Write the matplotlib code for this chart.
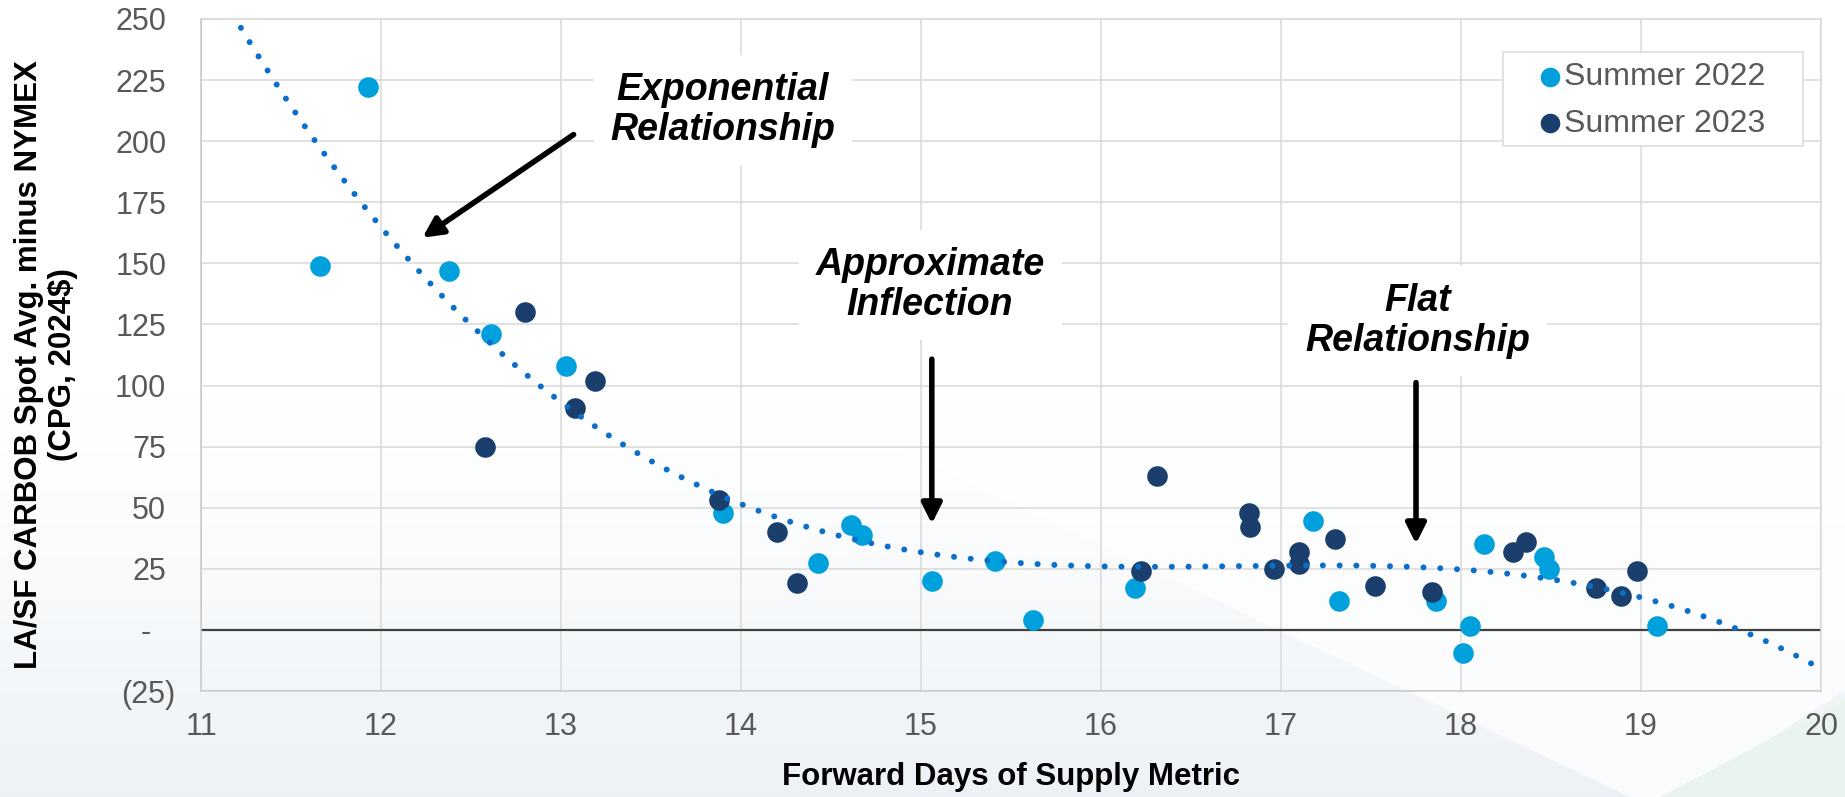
import numpy as np
import matplotlib
matplotlib.use("Agg")
import matplotlib.pyplot as plt
from matplotlib.patches import Polygon, Rectangle
from matplotlib.transforms import ScaledTranslation

plt.rcParams["font.family"] = ["Liberation Sans", "DejaVu Sans"]

# Summer 2022 (light blue)
x_2022 = [11.66, 11.93, 12.38, 12.61, 13.03, 13.90, 14.43, 14.61, 14.67, 15.06, 15.41,
          15.62, 16.19, 17.18, 17.32, 17.86, 18.05, 18.01, 18.13, 18.46, 18.49, 19.09]
y_2022 = [149, 222, 147, 121, 108, 48, 27.5, 43, 39, 20, 28,
          4, 17, 44.5, 12, 12, 1.6, -9.5, 35, 30, 25, 1.6]

# Summer 2023 (navy)
x_2023 = [12.58, 12.80, 13.08, 13.19, 13.88, 14.20, 14.31, 16.22, 16.31, 16.82, 16.83,
          16.96, 17.10, 17.10, 17.30, 17.52, 17.84, 18.29, 18.36, 18.75, 18.89, 18.98]
y_2023 = [75, 130, 91, 102, 53, 40, 19, 24, 63, 48, 42,
          25, 32, 27, 37, 18, 15.5, 32, 36, 17, 14, 24]

y_ticks = [-25, 0, 25, 50, 75, 100, 125, 150, 175, 200, 225, 250]
y_tick_labels = ["(25)", "-", "25", "50", "75", "100", "125", "150", "175", "200", "225", "250"]
x_ticks = [11, 12, 13, 14, 15, 16, 17, 18, 19, 20]

LIGHT = "#00A0DC"
DARK = "#1B3F6C"
TREND = "#0B6FCA"
GRAY_TXT = "#595959"

fig = plt.figure(figsize=(18.45, 7.97), dpi=100)

# slide background: pale gradient at the bottom with a white wedge and green corner
bg = fig.add_axes([0, 0, 1, 1], zorder=-10)
bg.axis("off")
yy = np.linspace(0, 1, 400)[:, None]
t = np.clip((yy - 0.5) / 0.5, 0, 1) ** 1.3
c0 = np.array([1.0, 1.0, 1.0])
c1 = np.array([0.925, 0.948, 0.965])
grad = (c0 * (1 - t) + c1 * t)[:, None, :].repeat(2, axis=1)
bg.imshow(grad, extent=[0, 1845, 797, 0], aspect="auto")
bg.add_patch(Polygon([(880, 440), (1845, 440), (1845, 690), (1680, 797), (1630, 797)],
                     closed=True, fc="white", ec="none", alpha=0.75))
bg.add_patch(Polygon([(1660, 797), (1845, 700), (1845, 797)],
                     closed=True, fc="#EAF4EF", ec="none"))
bg.set_xlim(0, 1845)
bg.set_ylim(797, 0)

ax = fig.add_axes([201 / 1845, 1 - 691 / 797, 1620 / 1845, 672 / 797])
ax.set_facecolor("none")

ax.scatter(x_2022, y_2022, s=220, color=LIGHT, linewidths=0, zorder=3, label="Summer 2022")
ax.scatter(x_2023, y_2023, s=220, color=DARK, linewidths=0, zorder=3.5, label="Summer 2023")

# polynomial (order 3) trendline fitted to both summers
x_all = np.array(x_2022 + x_2023)
y_all = np.array(y_2022 + y_2023)
coef = np.polyfit(x_all, y_all, 3)
xs = np.linspace(11, 20, 500)
ax.plot(xs, np.polyval(coef, xs), color=TREND, lw=4.3, ls=(0, (0.01, 2.8)),
        dash_capstyle="round", zorder=4)

ax.axhline(0, color="#404040", lw=1.6, zorder=2)

ax.set_xlim(11, 20)
ax.set_ylim(-25, 250)
ax.set_xticks(x_ticks)
ax.set_yticks(y_ticks)
ax.set_yticklabels(y_tick_labels)
ax.grid(True, color="#D9D9D9", lw=1.1, zorder=0)
ax.set_axisbelow(True)
for side in ["left", "bottom", "right", "top"]:
    ax.spines[side].set_color("#D9D9D9")
    ax.spines[side].set_linewidth(1.1)
ax.spines["left"].set_color("#C8C8C8")
ax.spines["bottom"].set_color("#C8C8C8")
ax.tick_params(axis="both", length=0, labelsize=22, labelcolor=GRAY_TXT)
ax.tick_params(axis="y", pad=25)
ax.tick_params(axis="x", pad=15)

# accounting-style alignment of the y labels
for lab in ax.get_yticklabels():
    if lab.get_text() == "(25)":
        lab.set_transform(lab.get_transform() + ScaledTranslation(9 / 100, 0, fig.dpi_scale_trans))
    elif lab.get_text() == "-":
        lab.set_transform(lab.get_transform() + ScaledTranslation(-15 / 100, 0, fig.dpi_scale_trans))

# legend box drawn separately so its padding can follow the original
ax.add_patch(Rectangle((0.8037, 0.811), 0.1852, 0.140, transform=ax.transAxes,
                       fc="white", ec="#D9D9D9", lw=1.1, zorder=5))
leg = ax.legend(loc="upper left", bbox_to_anchor=(0.8265, 0.9357), fontsize=23,
                labelcolor=GRAY_TXT, frameon=False, handletextpad=0.12, handlelength=0.63,
                borderpad=0, labelspacing=0.51, borderaxespad=0, markerscale=0.95)
leg.set_zorder(6)

box = dict(boxstyle="square,pad=0.45", fc="white", ec="none")
note = dict(fontsize=27, fontweight="bold", fontstyle="italic", ha="center", va="center",
            linespacing=1.15, bbox=box, zorder=5)
ax.text(13.90, 212.8, "Exponential\nRelationship", **note)
ax.text(15.05, 141.2, "Approximate\nInflection", **note)
ax.text(17.76, 126.4, "Flat\nRelationship", **note)

arrow = dict(arrowstyle="-|>,head_length=0.6,head_width=0.3", lw=4, color="black",
             mutation_scale=20, shrinkA=0, shrinkB=0)
ax.annotate("", xy=(12.23, 160.5), xytext=(13.07, 202.7), arrowprops=arrow, zorder=6)
ax.annotate("", xy=(15.06, 43.4), xytext=(15.06, 110.8), arrowprops=arrow, zorder=6)
ax.annotate("", xy=(17.75, 35.2), xytext=(17.75, 101.2), arrowprops=arrow, zorder=6)

fig.text(46 / 1845, 1 - 365 / 797, "LA/SF CARBOB Spot Avg. minus NYMEX\n(CPG, 2024$)",
         rotation=90, ha="center", va="center", multialignment="center",
         fontsize=22.5, fontweight="bold", linespacing=1.15)
fig.text(1011 / 1845, 1 - 777 / 797, "Forward Days of Supply Metric",
         ha="center", va="center", fontsize=22.5, fontweight="bold")

fig.savefig("out.png", dpi=100)
